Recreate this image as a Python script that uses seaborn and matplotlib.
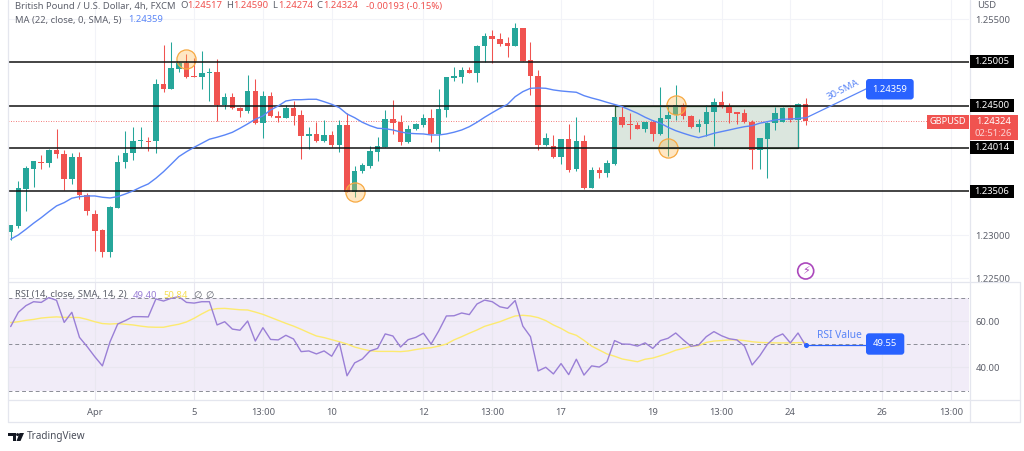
import numpy as np
import matplotlib
matplotlib.use("Agg")
import matplotlib.pyplot as plt
from matplotlib.patches import Circle, FancyBboxPatch, Rectangle
from matplotlib.transforms import blended_transform_factory
import seaborn as sns

# GBPUSD 4h candles
open_ = [
    1.23041, 1.23107, 1.23535, 1.23770, 1.23851, 1.23836, 1.23982, 1.23943, 1.23650, 1.23905,
    1.23469, 1.23246, 1.23061, 1.22803, 1.23316, 1.23847, 1.23948, 1.24087, 1.24093, 1.24087,
    1.24745, 1.24691, 1.24922, 1.24988, 1.24845, 1.24830, 1.24873, 1.24888, 1.24503, 1.24602,
    1.24475, 1.24437, 1.24668, 1.24302, 1.24610, 1.24382, 1.24356, 1.24468, 1.24391, 1.24144,
    1.24167, 1.24093, 1.24156, 1.24040, 1.24275, 1.23497, 1.23743, 1.23804, 1.23966, 1.24021,
    1.24341, 1.24310, 1.24078, 1.24225, 1.24278, 1.24359, 1.24167, 1.24448, 1.24822, 1.24833,
    1.24911, 1.24880, 1.25188, 1.25304, 1.25273, 1.25220, 1.25185, 1.25396, 1.25026, 1.24845,
    1.24040, 1.24032, 1.23905, 1.24113, 1.23763, 1.24093, 1.23547, 1.23758, 1.23724, 1.23824,
    1.24371, 1.24283, 1.24275, 1.24229, 1.24310, 1.24174, 1.24348, 1.24387, 1.24506, 1.24379,
    1.24252, 1.24283, 1.24422, 1.24537, 1.24487, 1.24422, 1.24410, 1.24313, 1.23986, 1.24113,
    1.24295, 1.24313, 1.24475, 1.24333, 1.24517,
]
high = [
    1.23119, 1.23628, 1.23801, 1.23862, 1.23928, 1.23994, 1.24225, 1.23986, 1.23948, 1.23963,
    1.23485, 1.23292, 1.23069, 1.23339, 1.23925, 1.24209, 1.24248, 1.24248, 1.24140, 1.24803,
    1.25200, 1.25238, 1.25007, 1.25096, 1.25046, 1.25134, 1.24930, 1.25038, 1.24648, 1.24648,
    1.24487, 1.24856, 1.24807, 1.24668, 1.24660, 1.24437, 1.24503, 1.24552, 1.24448, 1.24255,
    1.24313, 1.24333, 1.24206, 1.24333, 1.24410, 1.23801, 1.23832, 1.24032, 1.24133, 1.24448,
    1.24564, 1.24387, 1.24275, 1.24302, 1.24402, 1.24456, 1.24691, 1.24833, 1.24942, 1.24949,
    1.24949, 1.25200, 1.25335, 1.25373, 1.25342, 1.25296, 1.25451, 1.25400, 1.25234, 1.24911,
    1.24186, 1.24160, 1.24113, 1.24283, 1.24371, 1.24160, 1.23786, 1.23786, 1.23870, 1.24371,
    1.24495, 1.24417, 1.24313, 1.24313, 1.24333, 1.24718, 1.24506, 1.24737, 1.24533, 1.24391,
    1.24341, 1.24506, 1.24591, 1.24668, 1.24526, 1.24422, 1.24456, 1.24333, 1.24128, 1.24313,
    1.24483, 1.24487, 1.24487, 1.24526, 1.24590,
]
low = [
    1.22946, 1.23084, 1.23284, 1.23562, 1.23763, 1.23793, 1.23890, 1.23524, 1.23593, 1.23416,
    1.23238, 1.22822, 1.22753, 1.22746, 1.23316, 1.23781, 1.23870, 1.24024, 1.23978, 1.23948,
    1.24653, 1.24691, 1.24884, 1.24822, 1.24830, 1.24691, 1.24552, 1.24321, 1.24460, 1.24456,
    1.24364, 1.24417, 1.24287, 1.24125, 1.24364, 1.24310, 1.24352, 1.24278, 1.23882, 1.23994,
    1.24082, 1.24082, 1.24024, 1.23966, 1.23504, 1.23446, 1.23717, 1.23781, 1.23862, 1.24021,
    1.24171, 1.24044, 1.24070, 1.24217, 1.24255, 1.24078, 1.23978, 1.24371, 1.24787, 1.24764,
    1.24873, 1.24776, 1.25000, 1.24988, 1.25188, 1.25065, 1.25185, 1.25018, 1.24625, 1.23986,
    1.24032, 1.23897, 1.23824, 1.23735, 1.23747, 1.23532, 1.23547, 1.23659, 1.23670, 1.23813,
    1.24255, 1.24113, 1.24225, 1.24198, 1.24090, 1.24159, 1.23917, 1.24333, 1.24344, 1.24237,
    1.24198, 1.24151, 1.24032, 1.24468, 1.24295, 1.24287, 1.24302, 1.23766, 1.23770, 1.23666,
    1.24217, 1.24313, 1.24306, 1.24024, 1.24274,
]
close = [
    1.23119, 1.23543, 1.23778, 1.23855, 1.23836, 1.23982, 1.23936, 1.23650, 1.23909, 1.23466,
    1.23277, 1.23053, 1.22803, 1.23324, 1.23851, 1.23955, 1.24093, 1.24098, 1.24082, 1.24745,
    1.24691, 1.24930, 1.24988, 1.24833, 1.24830, 1.24873, 1.24888, 1.24503, 1.24602, 1.24468,
    1.24440, 1.24668, 1.24295, 1.24610, 1.24376, 1.24359, 1.24468, 1.24382, 1.24144, 1.24167,
    1.24093, 1.24156, 1.24040, 1.24275, 1.23504, 1.23747, 1.23813, 1.23974, 1.24032, 1.24341,
    1.24302, 1.24078, 1.24229, 1.24287, 1.24359, 1.24171, 1.24456, 1.24830, 1.24838, 1.24911,
    1.24876, 1.25188, 1.25304, 1.25266, 1.25211, 1.25185, 1.25396, 1.25018, 1.24838, 1.24040,
    1.24125, 1.23905, 1.24113, 1.23755, 1.24093, 1.23547, 1.23755, 1.23724, 1.23832, 1.24371,
    1.24275, 1.24272, 1.24229, 1.24306, 1.24174, 1.24352, 1.24391, 1.24506, 1.24379, 1.24255,
    1.24283, 1.24425, 1.24537, 1.24480, 1.24414, 1.24402, 1.24313, 1.23986, 1.24121, 1.24302,
    1.24410, 1.24475, 1.24333, 1.24514, 1.24324,
]
sma_22 = [
    1.22954, 1.23003, 1.23069, 1.23139, 1.23203, 1.23273, 1.23339, 1.23377, 1.23428, 1.23446,
    1.23454, 1.23454, 1.23439, 1.23431, 1.23446, 1.23477, 1.23512, 1.23555, 1.23593, 1.23659,
    1.23735, 1.23821, 1.23909, 1.23966, 1.24017, 1.24063, 1.24110, 1.24133, 1.24159, 1.24190,
    1.24237, 1.24287, 1.24341, 1.24379, 1.24448, 1.24495, 1.24552, 1.24567, 1.24567, 1.24572,
    1.24572, 1.24544, 1.24514, 1.24475, 1.24402, 1.24359, 1.24306, 1.24267, 1.24237, 1.24232,
    1.24217, 1.24194, 1.24179, 1.24174, 1.24171, 1.24159, 1.24159, 1.24171, 1.24191, 1.24217,
    1.24255, 1.24306, 1.24364, 1.24417, 1.24468, 1.24514, 1.24602, 1.24660, 1.24699, 1.24703,
    1.24699, 1.24680, 1.24668, 1.24660, 1.24653, 1.24614, 1.24587, 1.24564, 1.24537, 1.24512,
    1.24487, 1.24448, 1.24410, 1.24364, 1.24325, 1.24295, 1.24248, 1.24209, 1.24179, 1.24151,
    1.24128, 1.24151, 1.24179, 1.24198, 1.24217, 1.24237, 1.24255, 1.24267, 1.24295, 1.24313,
    1.24333, 1.24341, 1.24344, 1.24350, 1.24359,
]
rsi = [
    57.8, 64.0, 66.9, 68.6, 68.3, 70.4, 69.2, 59.6, 64.0, 53.1, 49.1, 44.7, 40.7, 51.2, 58.9,
    60.4, 62.1, 62.1, 62.0, 69.8, 68.9, 70.1, 70.8, 68.3, 68.0, 68.6, 68.6, 58.5, 59.9, 56.7,
    56.2, 60.2, 51.5, 57.3, 52.2, 52.0, 54.0, 52.4, 46.9, 47.2, 45.9, 47.2, 44.9, 50.7, 36.4,
    42.0, 43.7, 47.2, 48.3, 54.6, 53.7, 48.9, 52.1, 53.1, 54.9, 50.2, 55.9, 62.4, 62.5, 63.7,
    63.0, 67.6, 69.3, 68.6, 66.4, 65.7, 69.1, 58.0, 53.4, 38.5, 40.1, 37.2, 41.7, 36.9, 43.6,
    36.7, 40.7, 40.2, 42.4, 51.7, 50.2, 50.1, 49.3, 50.7, 48.3, 51.7, 52.7, 55.0, 52.0, 49.2,
    49.8, 53.4, 55.6, 53.8, 52.5, 52.0, 49.3, 41.1, 45.1, 50.1, 53.1, 54.6, 50.7, 55.0, 49.55,
]
rsi_sma = [
    59.5, 59.9, 60.5, 60.9, 61.5, 61.8, 62.0, 61.8, 61.8, 61.7, 60.9, 59.9, 59.1, 58.9, 59.1,
    58.8, 58.5, 58.0, 57.6, 57.5, 57.5, 58.2, 58.8, 59.8, 61.4, 63.3, 65.0, 65.6, 65.7, 65.4,
    65.1, 65.0, 64.1, 63.1, 61.8, 60.5, 59.2, 58.0, 56.6, 55.1, 53.7, 53.0, 52.1, 51.2, 50.2,
    48.9, 48.0, 47.3, 47.0, 47.0, 47.0, 46.9, 47.2, 47.8, 48.3, 48.6, 49.3, 50.2, 52.0, 53.4,
    54.9, 56.3, 57.9, 58.9, 59.9, 61.2, 62.4, 62.7, 62.4, 61.7, 60.4, 58.5, 57.0, 55.1, 54.0,
    51.8, 49.3, 47.6, 45.9, 44.9, 43.7, 43.1, 42.5, 43.6, 44.1, 45.1, 46.2, 47.5, 48.3, 49.2,
    49.5, 50.9, 51.5, 51.7, 52.0, 52.0, 51.7, 51.2, 50.9, 50.8, 50.7, 50.7, 50.7, 50.8, 50.9,
]

levels = [1.25005, 1.24500, 1.24014, 1.23506]
last_price = 1.24324
price_ticks = [1.22500, 1.23000, 1.25500]
rsi_ticks = [40, 60]
rsi_bands = [30, 50, 70]
time_pos = [11, 24, 33, 42, 54, 63, 72, 84, 93, 102, 114, 123]
time_labels = ["Apr", "5", "13:00", "10", "12", "13:00", "17", "19", "13:00", "24", "26", "13:00"]
circle_x = [23, 45, 87, 86]
circle_y = [1.25038, 1.23497, 1.24506, 1.24006]
range_box = (79, 103, 1.24014, 1.24500)

GREEN = "#26a69a"
RED = "#f05350"
BLUE = "#2962ff"
GREY = "#5d606b"
BORDER = "#e4e6ee"
GRID = "#f2f3f8"

sns.set_theme(style="white")
plt.rcParams["font.family"] = ["Noto Sans", "DejaVu Sans"]
plt.rcParams["font.size"] = 6.8

fig = plt.figure(figsize=(10.24, 4.51), dpi=100)
W, H = 1024, 451
ax = fig.add_axes([8 / W, (H - 282) / H, 961 / W, 282 / H])
ax_rsi = fig.add_axes([8 / W, (H - 400) / H, 961 / W, 118 / H])
# overlay in screen pixels for the labels and tags
pix = fig.add_axes([0, 0, 1, 1], zorder=10)
pix.set_xlim(0, W)
pix.set_ylim(H, 0)
pix.axis("off")

idx = np.arange(len(close))
o, h, l, c = map(np.array, (open_, high, low, close))
colors = np.where(c >= o, GREEN, RED)

# %% price pane
ax.add_patch(Rectangle((range_box[0], range_box[2]), range_box[1] - range_box[0],
                       range_box[3] - range_box[2], fc="#dbe6de", ec="#2f6b3a", lw=0.9, zorder=1.5))
ax.vlines(idx, l, h, colors=colors, lw=0.75, zorder=3)
body = np.maximum(np.abs(c - o), 0.00008)
ax.bar(idx, body, bottom=np.minimum(o, c), width=0.72, color=colors, lw=0, zorder=3)
ax.scatter(circle_x, circle_y, s=190, fc="#ffb74d55", ec="#f7a941", lw=0.9, zorder=3.5)
for lev in levels:
    ax.axhline(lev, color="#111111", lw=1.1, zorder=4)
ax.axhline(last_price, color=RED, lw=0.6, ls=(0, (1, 2)), zorder=2)
sns.lineplot(x=idx, y=sma_22, ax=ax, color="#5b86f7", lw=1, zorder=5, legend=False)

ax.set_xlim(-0.35, 125.37)
ax.set_ylim(1.22459, 1.2572)
ax.set_xticks(time_pos)
ax.set_xticklabels([])
ax.set_yticks(price_ticks)
ax.set_yticklabels([f"{t:.5f}" for t in price_ticks], color=GREY, fontsize=6.8)
ax.yaxis.tick_right()
ax.tick_params(length=0, pad=4.6)
ax.grid(True, color=GRID, lw=0.8)
ax.set_ylabel("")

# black level tags: x in screen pixels, y in price
tag_tf = blended_transform_factory(pix.transData, ax.transData)
for lev in levels:
    pix.add_patch(Rectangle((969.5, lev - 0.00075), 44.5, 0.0015, transform=tag_tf, fc="black", ec="none",
                            zorder=6, clip_on=False))
    pix.text(991.7, lev, f"{lev:.5f}", transform=tag_tf, color="white", fontsize=6.8, weight="medium",
             va="center", ha="center", zorder=7)

# %% rsi pane
ax_rsi.axhspan(rsi_bands[0], rsi_bands[2], color="#f1ecf8", lw=0, zorder=0)
for b in rsi_bands:
    ax_rsi.axhline(b, color="#8b8d96", lw=0.7, ls=(0, (4, 3)), zorder=2)
sns.lineplot(x=idx, y=rsi_sma, ax=ax_rsi, color="#fdea6f", lw=1, zorder=3, legend=False)
sns.lineplot(x=idx, y=rsi, ax=ax_rsi, color="#9a7fd6", lw=1, zorder=4, legend=False)
ax_rsi.set_xlim(-0.35, 125.37)
ax_rsi.set_ylim(25.87, 77.17)
ax_rsi.set_xticks(time_pos)
ax_rsi.set_xticklabels(time_labels, color=GREY, fontsize=6.8)
ax_rsi.get_xticklabels()[0].set_weight("bold")
ax_rsi.set_yticks(rsi_ticks)
ax_rsi.set_yticklabels([f"{t:.2f}" for t in rsi_ticks], color=GREY, fontsize=6.8)
ax_rsi.yaxis.tick_right()
ax_rsi.tick_params(axis="y", length=0, pad=4.6)
ax_rsi.tick_params(axis="x", length=0, pad=5.6)
ax_rsi.grid(True, color="#e9e7f0", lw=0.8)
ax_rsi.set_ylabel("")

for a in (ax, ax_rsi):
    for s in a.spines.values():
        s.set_visible(False)

# %% borders
for xs, ys in [([8, 8], [0, 422]), ([969.5, 969.5], [0, 422]), ([1020, 1020], [282, 422]),
               ([8, 1020], [282, 282]), ([8, 1020], [400, 400]), ([8, 1020], [422, 422])]:
    pix.plot(xs, ys, color=BORDER, lw=0.9, zorder=1)


def pill(x0, y0, x1, y1, color=BLUE):
    pix.add_patch(FancyBboxPatch((x0 + 2, y0 + 2), x1 - x0 - 4, y1 - y0 - 4,
                                 boxstyle="round,pad=2,rounding_size=3", fc=color, ec="none", zorder=6))


# %% header text
pix.text(15, 6, "British Pound / U.S. Dollar, 4h, FXCM", color=GREY, va="center", fontsize=6.8)
for x0, name, x1, val in [(180, "O", 187, "1.24517"), (225.7, "H", 233, "1.24590"),
                          (272, "L", 278, "1.24274"), (316.7, "C", 323, "1.24324")]:
    pix.text(x0, 6, name, color=GREY, va="center", fontsize=6.8)
    pix.text(x1, 6, val, color=RED, va="center", fontsize=6.8)
pix.text(366, 6, "-0.00193 (-0.15%)", color=RED, va="center", fontsize=6.8)
pix.text(15, 20, "MA (22, close, 0, SMA, 5)", color=GREY, va="center", fontsize=6.8)
pix.text(128, 20, "1.24359", color="#5b86f7", va="center", fontsize=6.8)
pix.text(15, 295, "RSI (14, close, SMA, 14, 2)", color=GREY, va="center", fontsize=6.8)
pix.text(133, 295, "49.40", color="#9a7fd6", va="center", fontsize=6.8)
pix.text(163, 295, "50.84", color="#f6df55", va="center", fontsize=6.8)
pix.text(193, 295, "\u2205", color=GREY, va="center", fontsize=6.8)
pix.text(205, 295, "\u2205", color=GREY, va="center", fontsize=6.8)
pix.text(977, 5, "USD", color=GREY, va="center", fontsize=6.8)

# %% right side tags
pix.add_patch(Rectangle((969.5, 115), 48.5, 24.5, fc=RED, ec="none", zorder=6))
pix.add_patch(Rectangle((926.7, 115), 42, 13.7, fc=RED, ec="none", zorder=6))
pix.text(948, 122, "GBPUSD", color="white", ha="center", va="center", fontsize=6.6, zorder=7)
pix.text(993.5, 121.5, "1.24324", color="white", ha="center", va="center", fontsize=6.8, zorder=7)
pix.text(993.5, 133, "02:51:26", color="#fbd4d4", ha="center", va="center", fontsize=6.8, zorder=7)

# %% callouts
pix.plot([805.7, 868], [118, 88], color="#5b86f7", lw=0.9, zorder=5)
pix.text(843, 90, "30-SMA", color="#5b86f7", rotation=27, ha="center", va="center", fontsize=7, zorder=6)
pill(866, 79, 913.7, 99.5)
pix.text(889.8, 89, "1.24359", color="white", ha="center", va="center", fontsize=6.8, zorder=7)

pix.plot([805.7, 868], [344.5, 344.5], color=BLUE, lw=0.9, zorder=5)
pix.plot([805.7], [344.5], "o", color=BLUE, ms=2.6, zorder=6)
pix.text(839.3, 335, "RSI Value", color="#5b86f7", ha="center", va="center", fontsize=7.4, zorder=6)
pill(866, 333.3, 904.3, 354.7)
pix.text(885, 344, "49.55", color="white", ha="center", va="center", fontsize=6.8, zorder=7)

# %% lightning icon
pix.add_patch(Circle((805.7, 271), 8, fc="white", ec="#ab47bc", lw=1.2, zorder=6))
pix.text(805.7, 271, "\u26a1", color="#ab47bc", family="DejaVu Sans", ha="center", va="center",
         fontsize=8, zorder=7)

# %% logo
pix.fill([8.3, 16, 16, 12.5, 12.5, 8.3], [433, 433, 441, 441, 436, 436], color="#131722", lw=0)
pix.add_patch(Circle((17.6, 434.6), 1.5, fc="#131722", ec="none"))
pix.fill([19.5, 24, 20.5, 16.5], [433, 433, 441, 441], color="#131722", lw=0)
pix.text(27, 437, "TradingView", color="#4a4e5a", va="center", fontsize=7.2)

fig.savefig("out.png", dpi=100)
